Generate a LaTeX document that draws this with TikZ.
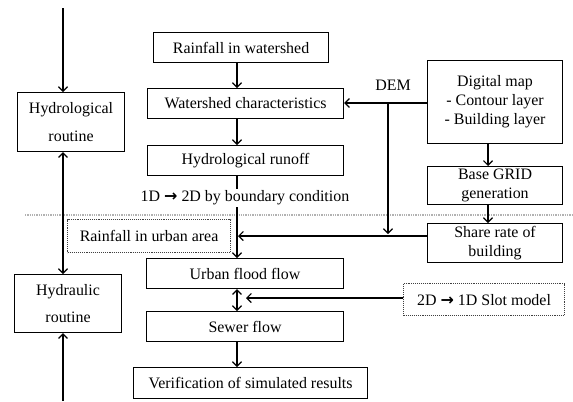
\documentclass[tikz,border=0pt]{standalone}
\usepackage{fontspec}
\setmainfont{Liberation Serif}
\newfontfamily\arrfont{DejaVu Sans}
\newcommand{\rarr}{{\arrfont\bfseries →}}
\usetikzlibrary{arrows.meta}
\begin{document}
\begin{tikzpicture}[x=1bp,y=-1bp,
  box/.style={draw, line width=1.1bp, inner sep=0pt, anchor=north west, align=center,
    font=\fontsize{16}{19}\selectfont},
  dbox/.style={box, densely dotted, draw=black!75},
  arr/.style={line width=1.2bp, -{Straight Barb[length=4.5bp,width=9bp]}},
  darr/.style={line width=1.2bp, {Straight Barb[length=4.5bp,width=9bp]}-{Straight Barb[length=4.5bp,width=9bp]}},
  ln/.style={line width=1.2bp},
  lbl/.style={font=\fontsize{16}{19}\selectfont, inner sep=2pt}]
\useasboundingbox (0,0) rectangle (573,401);
\fill[white] (0,0) rectangle (573,401);
\coordinate (cx) at (237,0);
\coordinate (lx) at (63,0);
\coordinate (rx) at (488,0);
\coordinate (dx) at (388,0);
% separator
\draw[gray!60, line width=1.3bp, densely dotted] (25,215) -- (573,215);
% central column
\node[box, minimum width=175bp, minimum height=30bp] (rw) at (153,32) {Rainfall in watershed};
\node[box, minimum width=196bp, minimum height=30bp] (wc) at (147,88) {Watershed characteristics};
\node[box, minimum width=196bp, minimum height=30bp] (hr) at (147,145) {Hydrological runoff};
\node[lbl] (bc) at (245,198) {1D \rarr\ 2D by boundary condition};
\node[dbox, minimum width=163bp, minimum height=33bp] (rua) at (67,219) {Rainfall in urban area};
\node[box, minimum width=197bp, minimum height=30bp] (uff) at (146,258) {Urban flood flow};
\node[box, minimum width=197bp, minimum height=30bp] (sf) at (146,311) {Sewer flow};
\node[box, minimum width=234bp, minimum height=31bp] (ver) at (133,367) {Verification of simulated results};
% left column
\node[box, minimum width=107bp, minimum height=59bp, font=\fontsize{16}{28}\selectfont] (hyd) at (17,92) {Hydrological\\routine};
\node[box, minimum width=107bp, minimum height=58bp, font=\fontsize{16}{28}\selectfont] (hyr) at (14,274) {Hydraulic\\routine};
% right column
\node[box, minimum width=135bp, minimum height=83bp] (dm) at (427,60) {Digital map\\- Contour layer\\- Building layer};
\node[box, minimum width=135bp, minimum height=38bp] (bg) at (427,166) {Base GRID\\generation};
\node[box, minimum width=135bp, minimum height=39bp] (sr) at (427,223) {Share rate of\\building};
\node[dbox, minimum width=161bp, minimum height=32bp] (slot) at (403,283) {2D \rarr\ 1D Slot model};
\node[lbl] (dem) at (393,85) {DEM};
% coordinates for free ends / rows
\coordinate (ltop) at (63,8);
\coordinate (lbot) at (63,401);
\coordinate (y103) at (0,103);
\coordinate (y236) at (0,236);
\coordinate (y235) at (0,234);
\coordinate (y298) at (0,298);
\coordinate (tipA) at (238,0);
\coordinate (tipB) at (246,0);
% central arrows
\draw[arr] (rw.south -| cx) -- (wc.north -| cx);
\draw[arr] (wc.south -| cx) -- (hr.north -| cx);
\draw[ln] (hr.south -| cx) -- (bc.north -| cx);
\draw[arr] (bc.south -| cx) -- (uff.north -| cx);
\draw[darr] (uff.south -| cx) -- (sf.north -| cx);
\draw[arr] (sf.south -| cx) -- (ver.north -| cx);
% left arrows
\draw[arr] (ltop) -- (hyd.north -| lx);
\draw[darr] (hyd.south -| lx) -- (hyr.north -| lx);
\draw[arr] (lbot) -- (hyr.south -| lx);
% right arrows
\draw[arr] (dm.west |- y103) -- (wc.east |- y103);
\draw[arr] (dx |- y103) -- (dx |- y235);
\draw[arr] (sr.west |- y236) -- (tipA |- y236);
\draw[arr] (dm.south -| rx) -- (bg.north -| rx);
\draw[arr] (bg.south -| rx) -- (sr.north -| rx);
\draw[arr] (slot.west |- y298) -- (tipB |- y298);
\end{tikzpicture}
\end{document}
